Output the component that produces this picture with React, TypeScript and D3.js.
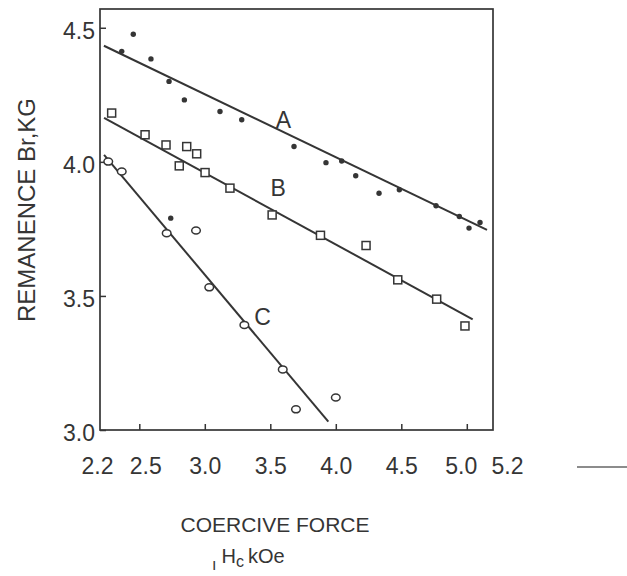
import * as d3 from "d3";
import { useEffect, useRef } from "react";

// axis ticks (kOe and kG)
const xTicks = [2.2, 2.5, 3.0, 3.5, 4.0, 4.5, 5.0, 5.2];
const yTicks = [3.0, 3.5, 4.0, 4.5];

// series A: filled dots
const seriesA: [number, number][] = [
  [2.366, 4.412], [2.454, 4.476], [2.589, 4.384], [2.727, 4.3], [2.844, 4.231],
  [3.116, 4.188], [3.282, 4.157], [3.681, 4.057], [3.925, 3.997], [4.045, 4.003],
  [4.152, 3.948], [4.33, 3.883], [4.485, 3.896], [4.765, 3.836], [4.943, 3.796],
  [5.017, 3.753], [5.101, 3.774], [2.74, 3.79],
];

// series B: open squares
const seriesB: [number, number][] = [
  [2.289, 4.182], [2.544, 4.101], [2.704, 4.063], [2.862, 4.057], [2.938, 4.03],
  [2.805, 3.985], [3.002, 3.96], [3.192, 3.902], [3.514, 3.802], [3.883, 3.726],
  [4.231, 3.688], [4.473, 3.56], [4.77, 3.488], [4.986, 3.388],
];

// series C: open circles
const seriesC: [number, number][] = [
  [2.263, 4.001], [2.366, 3.964], [2.709, 3.734], [2.933, 3.744], [3.034, 3.532],
  [3.302, 3.392], [3.595, 3.226], [3.696, 3.077], [4.0, 3.121],
];

// fitted straight lines (end points)
const fitA: [number, number][] = [[2.23, 4.433], [5.154, 3.746]];
const fitB: [number, number][] = [[2.231, 4.164], [5.045, 3.413]];
const fitC: [number, number][] = [[2.231, 4.026], [3.943, 3.031]];

const curveNames = ["A", "B", "C"];
const curveNameAt: [number, number][] = [[3.6, 4.157], [3.56, 3.903], [3.44, 3.423]];

const ink = "#353535";
const font = "'Liberation Sans', Arial, sans-serif";

export default function App() {
  const svgRef = useRef<SVGSVGElement | null>(null);

  useEffect(() => {
    if (!svgRef.current) return;
    const svg = d3.select(svgRef.current);
    svg.selectAll("*").remove();

    const x = d3.scaleLinear().domain([2.2, 5.2]).range([100, 493]);
    const y = d3.scaleLinear().domain([3.0, 4.57]).range([430, 9]);

    svg.append("rect").attr("width", 627).attr("height", 576).attr("fill", "white");

    // frame
    svg.append("rect")
      .attr("x", x(2.2))
      .attr("y", y(4.57))
      .attr("width", x(5.2) - x(2.2))
      .attr("height", y(3.0) - y(4.57))
      .attr("fill", "none")
      .attr("stroke", ink)
      .attr("stroke-width", 1.7);

    // x axis, ticks point inward
    const gx = svg.append("g")
      .attr("transform", `translate(0, ${y(3.0)})`)
      .call(d3.axisBottom(x).tickValues(xTicks).tickSize(-6).tickPadding(28).tickFormat(d3.format(".1f")));
    gx.select(".domain").remove();
    gx.selectAll(".tick line")
      .attr("stroke", ink)
      .attr("stroke-width", 1.5)
      .filter((d) => d === 2.2 || d === 5.2)
      .remove();
    gx.selectAll<SVGTextElement, number>(".tick text")
      .attr("fill", ink)
      .attr("dx", (d) => (d === 2.5 ? 6 : d === 5.0 ? -6 : d === 5.2 ? 14 : d === 2.2 ? -3 : 0))
      .style("font-family", font)
      .style("font-size", "23px");

    // y axis
    const gy = svg.append("g")
      .attr("transform", `translate(${x(2.2)}, 0)`)
      .call(d3.axisLeft(y).tickValues(yTicks).tickSize(-6).tickPadding(5).tickFormat(d3.format(".1f")));
    gy.select(".domain").remove();
    gy.selectAll(".tick line").attr("stroke", ink).attr("stroke-width", 1.5);
    gy.selectAll(".tick text")
      .attr("fill", ink)
      .attr("dy", "0.45em")
      .style("font-family", font)
      .style("font-size", "23px");

    // fitted lines
    const line = d3.line<[number, number]>().x((d) => x(d[0])).y((d) => y(d[1]));
    [fitA, fitB, fitC].forEach((f) => {
      svg.append("path")
        .attr("d", line(f))
        .attr("fill", "none")
        .attr("stroke", ink)
        .attr("stroke-width", 2);
    });

    // points
    svg.append("g").selectAll("circle")
      .data(seriesA)
      .enter()
      .append("circle")
      .attr("cx", (d) => x(d[0]))
      .attr("cy", (d) => y(d[1]))
      .attr("r", 2.7)
      .attr("fill", ink);

    svg.append("g").selectAll("rect")
      .data(seriesB)
      .enter()
      .append("rect")
      .attr("x", (d) => x(d[0]) - 4)
      .attr("y", (d) => y(d[1]) - 4)
      .attr("width", 8)
      .attr("height", 8)
      .attr("fill", "white")
      .attr("stroke", ink)
      .attr("stroke-width", 1.5);

    svg.append("g").selectAll("ellipse")
      .data(seriesC)
      .enter()
      .append("ellipse")
      .attr("cx", (d) => x(d[0]))
      .attr("cy", (d) => y(d[1]))
      .attr("rx", 4.3)
      .attr("ry", 3.5)
      .attr("fill", "white")
      .attr("stroke", ink)
      .attr("stroke-width", 1.5);

    // curve names
    svg.append("g").selectAll("text")
      .data(curveNames)
      .enter()
      .append("text")
      .attr("x", (_, i) => x(curveNameAt[i][0]))
      .attr("y", (_, i) => y(curveNameAt[i][1]))
      .attr("dy", "0.35em")
      .attr("text-anchor", "middle")
      .attr("fill", ink)
      .style("font-family", font)
      .style("font-size", "23px")
      .text((d) => d);

    // axis titles
    svg.append("text")
      .attr("transform", "translate(27, 210) rotate(-90)")
      .attr("text-anchor", "middle")
      .attr("dy", "0.35em")
      .attr("fill", ink)
      .style("font-family", font)
      .style("font-size", "24px")
      .text("REMANENCE Br,KG");

    svg.append("text")
      .attr("x", 275)
      .attr("y", 532)
      .attr("text-anchor", "middle")
      .attr("fill", ink)
      .style("font-family", font)
      .style("font-size", "21px")
      .text("COERCIVE FORCE");

    const sub = svg.append("text")
      .attr("x", 212)
      .attr("y", 563)
      .attr("fill", ink)
      .style("font-family", font)
      .style("font-size", "20px");
    sub.append("tspan").attr("dy", 7).style("font-size", "16px").text("ı");
    sub.append("tspan").attr("dy", -7).attr("dx", 5).text("H");
    sub.append("tspan").attr("dy", 4).style("font-size", "16px").text("c");
    sub.append("tspan").attr("dy", -4).attr("dx", 4).text("kOe");

    // scan mark at right edge
    svg.append("line")
      .attr("x1", 577).attr("x2", 627)
      .attr("y1", 467).attr("y2", 467)
      .attr("stroke", "#666")
      .attr("stroke-width", 1.3);
  }, []);

  return (
    <svg
      ref={svgRef}
      width={627}
      height={576}
      style={{ position: "absolute", left: 0, top: 0, display: "block" }}
    />
  );
}
